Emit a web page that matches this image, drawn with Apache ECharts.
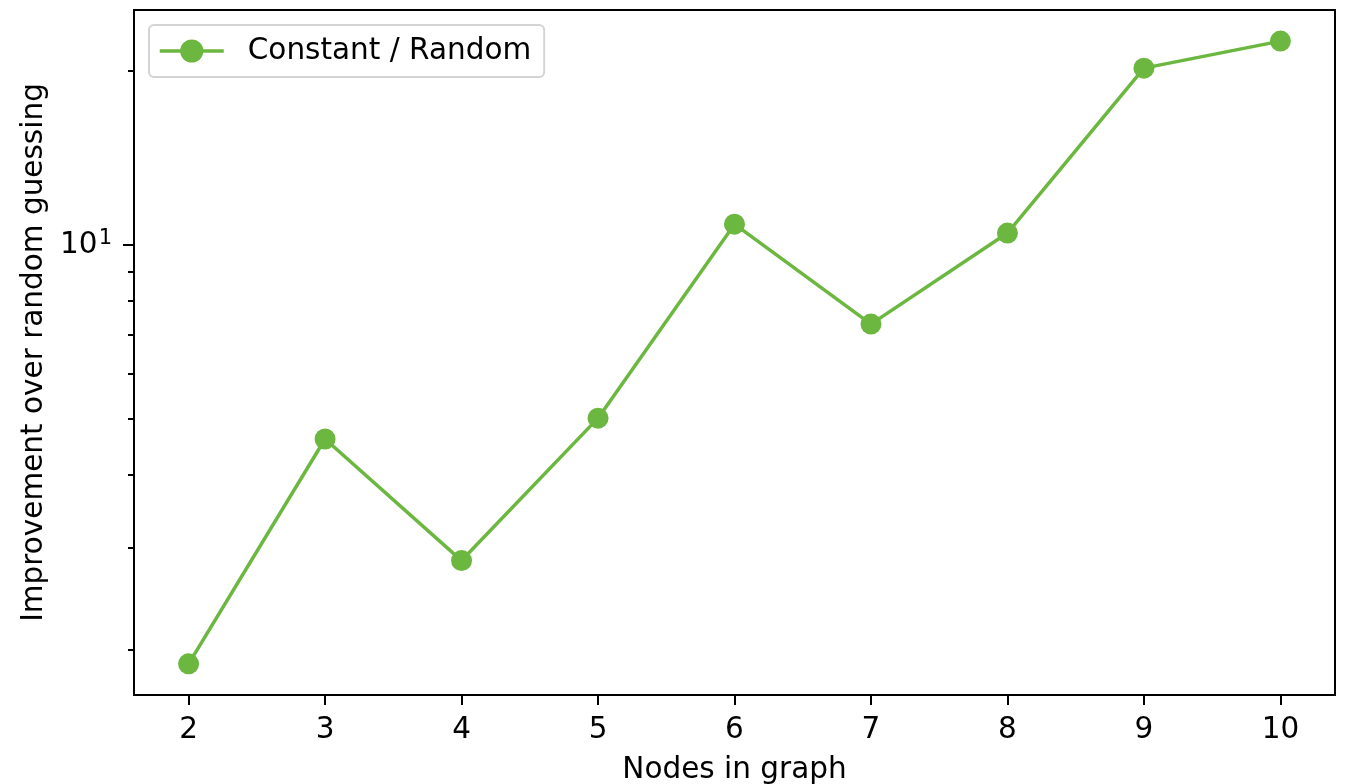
<!DOCTYPE html>
<html><head><meta charset="utf-8">
<script src="https://cdn.jsdelivr.net/npm/echarts@6/dist/echarts.min.js"></script>
<style>html,body{margin:0;padding:0;background:#fff}#c{width:1347px;height:784px}</style>
</head><body><div id="c"></div>
<script>
const nodes = [2, 3, 4, 5, 6, 7, 8, 9, 10];
const improvement = [1.887, 4.62, 2.847, 5.02, 10.87, 7.30, 10.49, 20.23, 22.53];
const xTicks = [2, 3, 4, 5, 6, 7, 8, 9, 10];
const yMajorTicks = [10];
const yMinorTicks = [2, 3, 4, 5, 6, 7, 8, 9, 20];
const seriesName = 'Constant / Random';

const FONT = 'DejaVu Sans';
const FS = 29.5;
const GREEN = '#6cb740';
const Y_MIN = 1.667, Y_MAX = 25.5;

const chart = echarts.init(document.getElementById('c'), null, {renderer: 'canvas'});
chart.setOption({
  animation: false,
  backgroundColor: '#fff',
  grid: {left: 134, right: 12, top: 10, bottom: 89, show: true, borderColor: '#000', borderWidth: 2,
         containLabel: false, outerBoundsMode: 'none'},
  legend: {
    left: 149, top: 25,
    padding: [9, 13, 9, 9],
    itemWidth: 64, itemHeight: 29,
    borderColor: '#d4d4d4', borderWidth: 2, borderRadius: 5,
    backgroundColor: '#fff',
    lineStyle: {width: 3.5, color: GREEN},
    itemStyle: {color: GREEN},
    textStyle: {fontFamily: FONT, fontSize: FS, color: '#000', lineHeight: 34, padding: [0, 0, 0, 19]},
    data: [seriesName]
  },
  xAxis: {
    type: 'value', min: 1.6, max: 10.4,
    name: 'Nodes in graph', nameLocation: 'middle', nameGap: 60,
    nameTextStyle: {fontFamily: FONT, fontSize: FS, color: '#000'},
    axisLine: {show: true, lineStyle: {color: '#000', width: 2}},
    axisTick: {show: true, customValues: xTicks, length: 10, lineStyle: {color: '#000', width: 2}},
    axisLabel: {customValues: xTicks, fontFamily: FONT, fontSize: FS, color: '#000', margin: 20},
    splitLine: {show: false}
  },
  yAxis: [{
    type: 'log', min: Y_MIN, max: Y_MAX, logBase: 10,
    name: 'Improvement over random guessing', nameLocation: 'middle', nameGap: 84,
    nameTextStyle: {fontFamily: FONT, fontSize: FS, color: '#000'},
    axisLine: {show: true, lineStyle: {color: '#000', width: 2}},
    axisTick: {show: true, customValues: yMajorTicks, length: 11, lineStyle: {color: '#000', width: 2}},
    axisLabel: {customValues: yMajorTicks, color: '#000', margin: 22,
      formatter: v => (Math.abs(v - 10) < 1e-6 ? '{b|10}{s|1}' : ''),
      rich: {
        b: {fontFamily: FONT, fontSize: FS, color: '#000'},
        s: {fontFamily: FONT, fontSize: 21, color: '#000', padding: [0, 0, 14, 1]}
      }},
    splitLine: {show: false}, minorTick: {show: false}
  }, {
    type: 'log', min: Y_MIN, max: Y_MAX, logBase: 10, position: 'left', offset: 0,
    axisLine: {show: false},
    axisTick: {show: true, customValues: yMinorTicks, length: 6, lineStyle: {color: '#000', width: 2}},
    axisLabel: {show: false},
    splitLine: {show: false}
  }],
  series: [{
    name: seriesName, type: 'line', yAxisIndex: 0,
    data: nodes.map((n, i) => [n, improvement[i]]),
    symbol: 'circle', symbolSize: 21,
    lineStyle: {color: GREEN, width: 3.5},
    itemStyle: {color: GREEN},
    emphasis: {disabled: true}
  }]
});
</script></body></html>
